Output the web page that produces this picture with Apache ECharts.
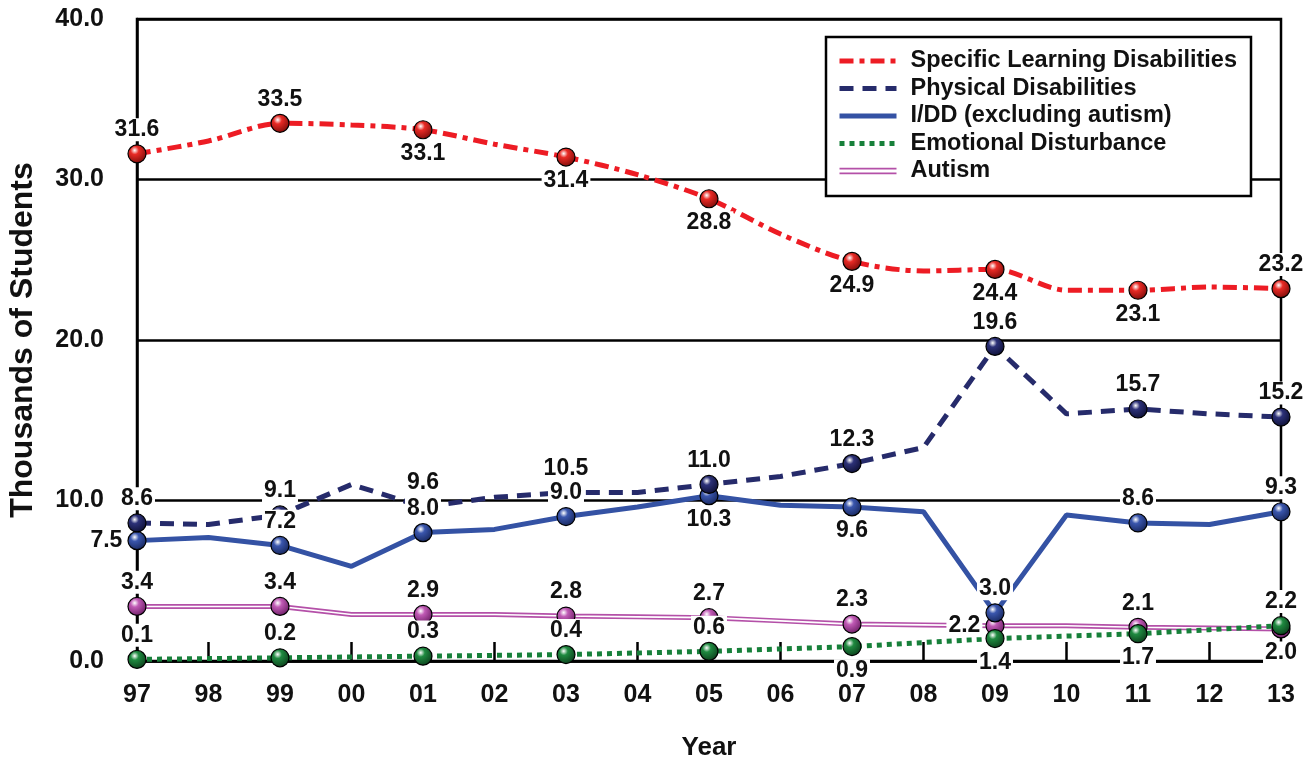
<!DOCTYPE html>
<html>
<head>
<meta charset="utf-8">
<script src="https://cdn.jsdelivr.net/npm/echarts@6/dist/echarts.min.js"></script>
<style>
html,body{margin:0;padding:0;background:#fff;}
#chart{width:1315px;height:761px;}
</style>
</head>
<body>
<div id="chart"></div>
<script>
// ---- data ----
const years = ['97','98','99','00','01','02','03','04','05','06','07','08','09','10','11','12','13'];
const yTicks = [0, 10, 20, 30, 40];
const sld    = [31.6,32.4,33.5,33.4,33.1,32.2,31.4,30.3,28.8,26.6,24.9,24.3,24.4,23.1,23.1,23.3,23.2];
const phys   = [8.6,8.5,9.1,11.0,9.6,10.2,10.5,10.5,11.0,11.5,12.3,13.3,19.6,15.4,15.7,15.4,15.2];
const idd    = [7.5,7.7,7.2,5.9,8.0,8.2,9.0,9.6,10.3,9.7,9.6,9.3,3.0,9.1,8.6,8.5,9.3];
const autism = [3.4,3.4,3.4,2.9,2.9,2.9,2.8,2.75,2.7,2.5,2.3,2.25,2.2,2.2,2.1,2.05,2.0];
const ed     = [0.1,0.15,0.2,0.25,0.3,0.35,0.4,0.5,0.6,0.75,0.9,1.15,1.4,1.55,1.7,1.95,2.2];
const names = ['Specific Learning Disabilities','Physical Disabilities','I/DD (excluding autism)','Emotional Disturbance','Autism'];

// ---- label placement (layout, not data) ----
const posSld    = ['top','top','bottom','bottom','bottom','bottom','bottom','bottom','top'];
const posPhys   = ['top','top','top','top','top','top','top','top','top'];
const posIdd    = ['left','top','top','top','bottom','bottom','top','top','top'];
const posAutism = ['top','top','top','top','top','top','left','top','bottom'];
const posEd     = ['top','top','top','top','top','bottom','bottom','bottom','top'];

const FONT = '"Liberation Sans", Arial, sans-serif';

function sphere(base, dark) {
  return {type:'radial', x:0.38, y:0.32, r:0.72,
    colorStops:[{offset:0,color:'#ffffff'},{offset:0.3,color:base},{offset:1,color:dark}]};
}
function mkData(vals, positions) {
  return vals.map((v, i) => {
    if (i % 2) return {value: v, symbol: 'none', label: {show: false}};
    return {value: v, symbol: 'circle', label: {show: true, position: positions[i / 2]}};
  });
}
const labelStyle = {
  show: true, fontFamily: FONT, fontWeight: 'bold', fontSize: 23, color: '#111',
  backgroundColor: '#fff', padding: [0, 2, 0, 2], distance: 3,
  formatter: p => p.value.toFixed(1)
};
function markerSeries(name, vals, positions, base, dark, lineStyle, extra) {
  return Object.assign({
    name: name, type: 'line', data: mkData(vals, positions),
    symbol: 'none', symbolSize: 18, showSymbol: true,
    lineStyle: lineStyle,
    itemStyle: {color: sphere(base, dark), borderColor: '#000', borderWidth: 1.2},
    label: labelStyle,
    emphasis: {disabled: true},
    animation: false
  }, extra || {});
}

const chart = echarts.init(document.getElementById('chart'), null, {renderer: 'canvas'});
const option = {
  backgroundColor: '#fff',
  animation: false,
  grid: {left: 137, right: 34, top: 19, bottom: 100, show: true, borderColor: '#000', borderWidth: 2.5,
    backgroundColor: 'transparent', containLabel: false, outerBoundsMode: 'none'},
  legend: {
    orient: 'vertical', left: 826, top: 37,
    padding: [12, 14, 13, 11],
    backgroundColor: '#fff', borderColor: '#000', borderWidth: 2.5, borderRadius: 0,
    itemWidth: 57, itemHeight: 10, itemGap: 3.5,
    itemStyle: {opacity: 0},
    lineStyle: {width: 5},
    textStyle: {fontFamily: FONT, fontWeight: 'bold', fontSize: 23.5, color: '#111', padding: [0, 0, 0, 9], lineHeight: 24},
    data: [
      names[0], names[1], names[2], names[3],
      {name: names[4], icon: 'path://M0,0H57V1.8H0Z M0,4.6H57V6.4H0Z', itemStyle: {color: '#b450a8', borderWidth: 0, opacity: 1}}
    ]
  },
  xAxis: {
    type: 'category', data: years, boundaryGap: false,
    name: 'Year', nameLocation: 'middle', nameGap: 74,
    nameTextStyle: {fontFamily: FONT, fontWeight: 'bold', fontSize: 26, color: '#111'},
    axisLine: {show: true, lineStyle: {color: '#000', width: 2.5}},
    axisTick: {show: true, inside: true, length: 19, lineStyle: {color: '#000', width: 2.5},
      interval: (idx) => idx % 2 === 1},
    axisLabel: {fontFamily: FONT, fontWeight: 'bold', fontSize: 25, color: '#111', margin: 22, interval: 0},
    splitLine: {show: false}
  },
  yAxis: {
    type: 'value', min: yTicks[0], max: yTicks[yTicks.length - 1], interval: 10,
    name: 'Thousands of Students', nameLocation: 'middle', nameGap: 98,
    nameTextStyle: {fontFamily: FONT, fontWeight: 'bold', fontSize: 32, color: '#111'},
    axisLine: {show: true, lineStyle: {color: '#000', width: 2.5}},
    axisTick: {show: false},
    axisLabel: {fontFamily: FONT, fontWeight: 'bold', fontSize: 25, color: '#111', margin: 33,
      formatter: v => v.toFixed(1)},
    splitLine: {show: true, lineStyle: {color: '#000', width: 2.5}}
  },
  series: [
    {name: 'autism-outer', type: 'line', data: autism, symbol: 'none', silent: true,
      lineStyle: {color: '#b450a8', width: 5}, emphasis: {disabled: true}, animation: false},
    {name: 'autism-inner', type: 'line', data: autism, symbol: 'none', silent: true,
      lineStyle: {color: '#ffffff', width: 1.6}, emphasis: {disabled: true}, animation: false},
    markerSeries(names[4], autism, posAutism, '#c05ab5', '#6a1c63', {color: '#b450a8', width: 0, opacity: 0}),
    markerSeries(names[3], ed, posEd, '#1f8a40', '#0b3d1a', {color: '#17803a', width: 5, type: [5, 5]}),
    markerSeries(names[2], idd, posIdd, '#3a56ad', '#16255a', {color: '#3452a4', width: 5}),
    markerSeries(names[1], phys, posPhys, '#2c3178', '#0d0f33', {color: '#262b6b', width: 5, type: [14, 9]}),
    markerSeries(names[0], sld, posSld, '#e82a25', '#7a0b08', {color: '#ed1c24', width: 5, type: [14, 6, 5, 6]}, {smooth: 0.3})
  ]
};
chart.setOption(option);
</script>
</body>
</html>
